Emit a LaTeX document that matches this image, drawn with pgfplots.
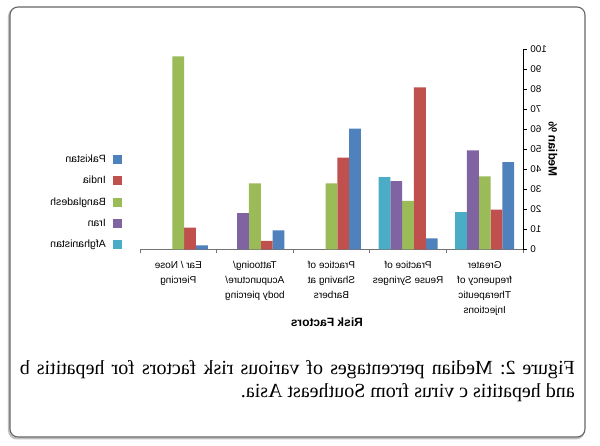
\documentclass[border=0pt]{standalone}
\usepackage{pgfplots}
\pgfplotsset{compat=1.18}
\usepackage{fontspec}
\setmainfont{Liberation Sans}
\newfontfamily\capfont{Liberation Serif}
\definecolor{cPak}{HTML}{4F81BD}
\definecolor{cInd}{HTML}{C0504D}
\definecolor{cBan}{HTML}{9BBB59}
\definecolor{cIra}{HTML}{8064A2}
\definecolor{cAfg}{HTML}{4BACC6}
\begin{document}
\reflectbox{%
\begin{tikzpicture}[x=1pt,y=1pt]
\useasboundingbox (0,0) rectangle (600,446);
\fill[white] (0,0) rectangle (600,446);
\draw[black!25, line width=2pt, rounded corners=8pt] (16,7.5) rectangle (591,437.5);
\draw[black!60, line width=1.1pt, rounded corners=8pt, fill=white] (15,9) rectangle (590,439);
\begin{axis}[
  at={(77pt,196.5pt)}, anchor=south west,
  scale only axis, width=383pt, height=200.5pt,
  xmin=-0.5, xmax=4.5, ymin=0, ymax=100,
  enlargelimits=false,
  axis x line*=bottom, axis y line*=left,
  x axis line style={draw=black!55, line width=0.9pt},
  y axis line style={draw=black, line width=0.9pt},
  ybar=0pt, bar width=11.8pt,
  xtick={0,1,2,3,4},
  xticklabels={{Greater\\frequency of\\Therapeutic\\Injections},
               {Practice of\\Reuse Syringes},
               {Practice of\\Shaving at\\Barbers},
               {Tattooing/\\Acupuncture/\\body piercing},
               {Ear / Nose\\Piercing}},
  xticklabel style={align=center, font=\fontsize{10}{15}\selectfont, text=black, yshift=-4pt},
  major x tick style={draw=none},
  minor xtick={-0.5,0.5,1.5,2.5,3.5,4.5},
  minor x tick style={draw=black!55, line width=0.8pt},
  minor tick length=4pt,
  ytick={0,10,...,100},
  major tick length=4pt,
  tick align=outside,
  y tick style={draw=black, line width=0.8pt},
  yticklabel style={font=\fontsize{9.8}{11}\selectfont, text=black},
  /pgf/number format/assume math mode=true,
  ylabel={Median \%},
  ylabel style={at={(axis description cs:-0.078,0.5)}, anchor=center, font=\bfseries\fontsize{12}{14}\selectfont},
  xlabel={Risk Factors},
  xlabel style={at={(axis description cs:0.512,0)}, anchor=center, yshift=-72.5pt, font=\bfseries\fontsize{12}{14}\selectfont},
  legend style={at={(axis description cs:1,0.237)}, anchor=west, xshift=18pt, draw=none, fill=none,
    font=\fontsize{10.5}{12}\selectfont, text=black, row sep=8.3pt, inner sep=0pt,
    cells={anchor=west},
    /tikz/every odd column/.append style={column sep=5pt}},
  legend image code/.code={\fill[#1] (0pt,-4.5pt) rectangle (9pt,4.5pt);},
]
\addplot[fill=cPak, draw=none] coordinates {(0,43.6) (1,5.6) (2,60.3) (3,9.5) (4,2.0)};
\addplot[fill=cInd, draw=none] coordinates {(0,19.9) (1,80.9) (2,45.8) (3,4.3) (4,10.9)};
\addplot[fill=cBan, draw=none] coordinates {(0,36.5) (1,24.2) (2,33.0) (3,33.0) (4,96.3)};
\addplot[fill=cIra, draw=none] coordinates {(0,49.4) (1,34.1) (3,18.2)};
\addplot[fill=cAfg, draw=none] coordinates {(0,18.6) (1,36.1)};
\legend{Pakistan, India, Bangladesh, Iran, Afghanistan}
\end{axis}
\node[anchor=north west, inner sep=0pt, text width=555pt, align=justify,
      font=\capfont\fontsize{20}{23}\selectfont\frenchspacing] at (25,86)
  {Figure 2: Median percentages of various risk factors for hepatitis b\linebreak and hepatitis c virus from Southeast Asia.};
\end{tikzpicture}}
\end{document}
